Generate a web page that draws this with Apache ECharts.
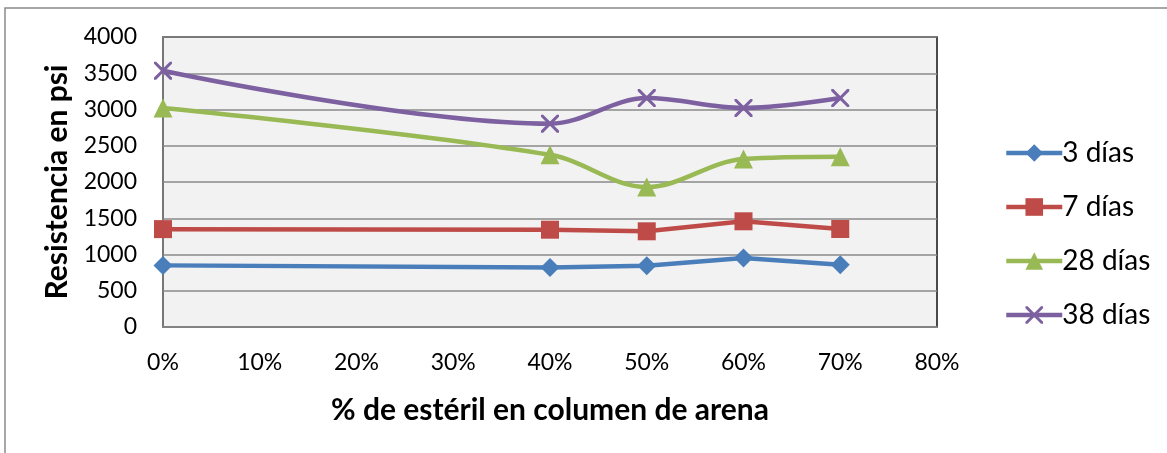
<!DOCTYPE html>
<html>
<head>
<meta charset="utf-8">
<script src="https://cdn.jsdelivr.net/npm/echarts@6/dist/echarts.min.js"></script>
<style>
html,body{margin:0;padding:0;background:#fff;}
#c{width:1167px;height:453px;}
</style>
</head>
<body>
<div id="c"></div>
<script>
// Data
const xValues = [0, 0.4, 0.5, 0.6, 0.7];
const seriesNames = ['3 días', '7 días', '28 días', '38 días'];
const dias3 = [850, 820, 845, 952, 858];
const dias7 = [1350, 1342, 1320, 1458, 1352];
const dias28 = [3020, 2375, 1930, 2318, 2350];
const dias38 = [3535, 2805, 3158, 3022, 3158];
const yTicks = [0, 500, 1000, 1500, 2000, 2500, 3000, 3500, 4000];

const FONT = 'Lato, "Liberation Sans", sans-serif';
const xMark = 'path://M0,0 L1.2,0 L5,3.8 L8.8,0 L10,0 L10,1.2 L6.2,5 L10,8.8 L10,10 L8.8,10 L5,6.2 L1.2,10 L0,10 L0,8.8 L3.8,5 L0,1.2 Z';

function pts(arr){ return xValues.map((x,i)=>[x, arr[i]]); }

const chart = echarts.init(document.getElementById('c'), null, {renderer:'canvas'});
const colors = ['#4A7EBB', '#BE4B48', '#98B954', '#7D60A0'];
const symbols = ['diamond', 'rect', 'triangle', xMark];
const sizes = [19, 18, 19, 18];
const smooths = [false, false, 0.35, 0.35];
const datas = [dias3, dias7, dias28, dias38];

chart.setOption({
  animation: false,
  backgroundColor: '#fff',
  graphic: [{
    type: 'rect',
    shape: {x: 5, y: 8, width: 1300, height: 600},
    style: {fill: 'none', stroke: '#8a8a8a', lineWidth: 1.5},
    silent: true, z: -10
  }],
  grid: {
    left: 163, right: 230, top: 37, bottom: 126,
    show: true, backgroundColor: '#F2F2F2', borderColor: '#111', borderWidth: 1.5
  },
  legend: {
    orient: 'vertical',
    left: 999, top: 133,
    itemWidth: 56, itemHeight: 22, itemGap: 24,
    lineStyle: {width: 4.5},
    textStyle: {fontFamily: FONT, fontSize: 28, lineHeight: 30, color: '#000', padding: [0,0,0,-5]},
    data: seriesNames
  },
  xAxis: {
    type: 'value', min: 0, max: 0.8, interval: 0.1,
    name: '% de estéril en columen de arena',
    nameLocation: 'middle', nameGap: 68,
    nameTextStyle: {fontFamily: FONT, fontSize: 30, fontWeight: 'bold', color: '#000'},
    axisLine: {show: true, lineStyle: {color: '#868686', width: 1.5}},
    axisTick: {show: false},
    splitLine: {show: false},
    axisLabel: {fontFamily: FONT, fontSize: 23, color: '#000', margin: 24,
      formatter: v => Math.round(v*100) + '%'}
  },
  yAxis: {
    type: 'value', min: 0, max: 4000, interval: 500,
    name: 'Resistencia en psi',
    nameLocation: 'middle', nameGap: 89,
    nameTextStyle: {fontFamily: FONT, fontSize: 30, fontWeight: 'bold', color: '#000'},
    axisLine: {show: true, lineStyle: {color: '#868686', width: 1.5}},
    axisTick: {show: false},
    splitLine: {show: true, lineStyle: {color: '#8a8a8a', width: 1.5}},
    axisLabel: {fontFamily: FONT, fontSize: 23, color: '#000', margin: 26,
      formatter: v => String(v), customValues: yTicks}
  },
  series: datas.map((d, i) => ({
    name: seriesNames[i],
    type: 'line',
    data: pts(d),
    smooth: smooths[i],
    symbol: symbols[i],
    symbolSize: sizes[i],
    showAllSymbol: true,
    lineStyle: {color: colors[i], width: 4.5},
    itemStyle: {color: colors[i], borderWidth: 0},
    z: 2 + i
  }))
});
</script>
</body>
</html>
